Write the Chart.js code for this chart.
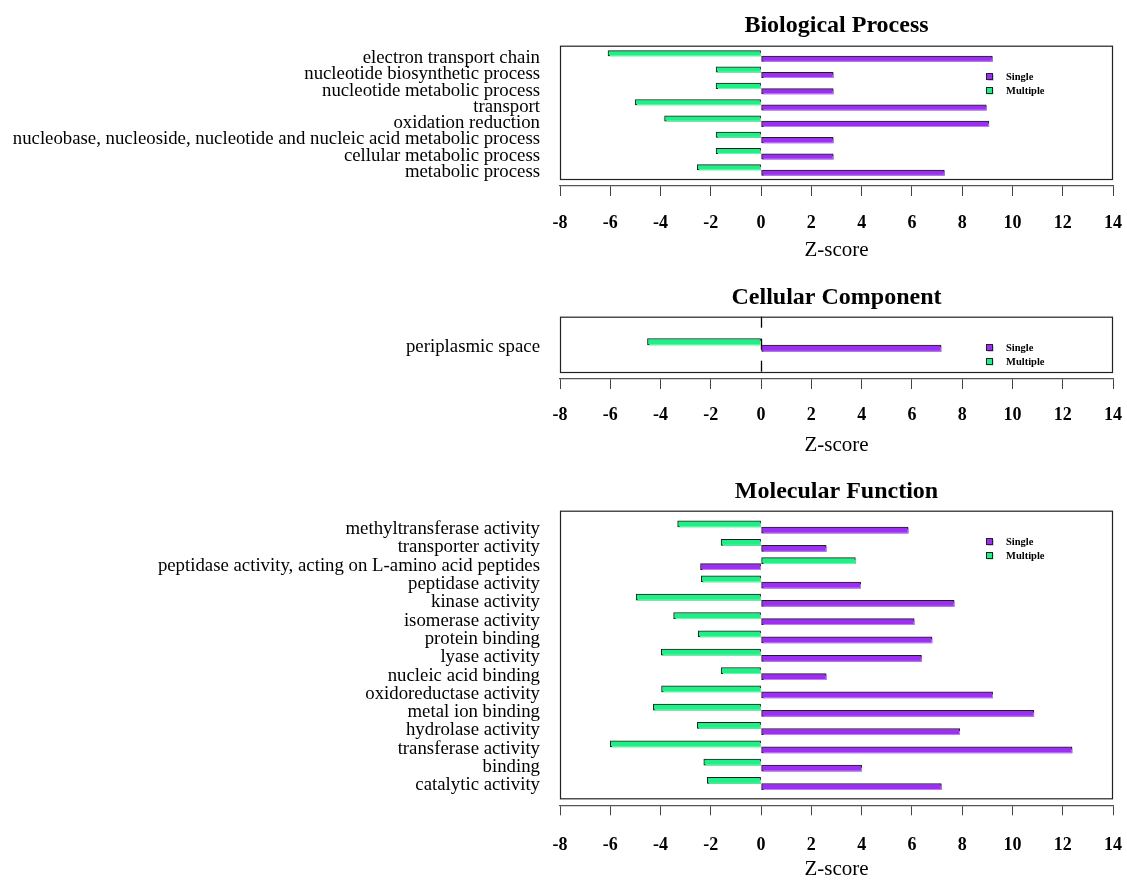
<!DOCTYPE html>
<html><head><meta charset="utf-8">
<script src="https://cdn.jsdelivr.net/npm/chart.js@4.4.0/dist/chart.umd.min.js"></script>
<style>
html,body{margin:0;padding:0;background:#fff;}
body{width:1127px;height:880px;position:relative;overflow:hidden;}
canvas{position:absolute;left:0;display:block;}
</style></head><body>
<canvas id="c1" width="1127" height="265" style="top:0px"></canvas>
<canvas id="c2" width="1127" height="193" style="top:265px"></canvas>
<canvas id="c3" width="1127" height="426" style="top:458px"></canvas>
<script>
// ---------- data ----------
const bpLabels = ["electron transport chain","nucleotide biosynthetic process","nucleotide metabolic process","transport","oxidation reduction","nucleobase, nucleoside, nucleotide and nucleic acid metabolic process","cellular metabolic process","metabolic process"];
const bpSingle   = [9.2, 2.87, 2.87, 8.96, 9.06, 2.87, 2.87, 7.29];
const bpMultiple = [-6.09, -1.79, -1.79, -5.01, -3.84, -1.79, -1.79, -2.54];

const ccLabels = ["periplasmic space"];
const ccSingle   = [7.16];
const ccMultiple = [-4.52];

const mfLabels = ["methyltransferase activity","transporter activity","peptidase activity, acting on L-amino acid peptides","peptidase activity","kinase activity","isomerase activity","protein binding","lyase activity","nucleic acid binding","oxidoreductase activity","metal ion binding","hydrolase activity","transferase activity","binding","catalytic activity"];
const mfSingle   = [5.85, 2.59, -2.41, 3.96, 7.68, 6.09, 6.8, 6.38, 2.59, 9.21, 10.85, 7.9, 12.37, 4.0, 7.17];
const mfMultiple = [-3.32, -1.59, 3.75, -2.38, -4.97, -3.48, -2.5, -3.97, -1.59, -3.96, -4.29, -2.54, -6.0, -2.28, -2.14];

const seriesNames = ["Single", "Multiple"];
const xMin = -8, xMax = 14, xStep = 2;
const axisTitle = "Z-score";

// ---------- style ----------
const FONT = "'Liberation Serif', 'Times New Roman', serif";
const PURPLE = "#9b30f0", PURPLE_SH = "#c07cff";
const GREEN = "#22ee88", GREEN_SH = "#5dffaa";
const FRAME_GAP = 7;

const framePlugin = {
  id: 'frame',
  beforeDatasetsDraw(chart, args, opts) {
    const {ctx, chartArea: a, scales} = chart;
    ctx.save();
    if (opts.zeroLine) {
      const x0 = Math.round(scales.x.getPixelForValue(0)) + 0.5;
      ctx.strokeStyle = '#000'; ctx.lineWidth = 1.3; ctx.setLineDash([11, 11]);
      ctx.beginPath(); ctx.moveTo(x0, a.top); ctx.lineTo(x0, a.bottom - FRAME_GAP); ctx.stroke();
      ctx.setLineDash([]);
    }
    ctx.restore();
  },
  afterDraw(chart) {
    const {ctx, chartArea: a} = chart;
    ctx.save();
    ctx.strokeStyle = '#222'; ctx.lineWidth = 1.2;
    ctx.strokeRect(a.left + 0.5, a.top + 0.5, a.right - a.left - 1, a.bottom - FRAME_GAP - a.top);
    ctx.restore();
  }
};

const shadowPlugin = {
  id: 'barshadow',
  beforeDatasetDraw(chart, args) {
    const ds = chart.data.datasets[args.index];
    const ctx = chart.ctx;
    ctx.save();
    ctx.shadowColor = ds.shadowCol;
    ctx.shadowOffsetX = 1.2; ctx.shadowOffsetY = 1.6; ctx.shadowBlur = 0;
  },
  afterDatasetDraw(chart) { chart.ctx.restore(); }
};

const legendPlugin = {
  id: 'insideLegend',
  afterDraw(chart, args, opts) {
    const {ctx, chartArea: a} = chart;
    const items = [[seriesNames[0], PURPLE, PURPLE_SH], [seriesNames[1], GREEN, GREEN_SH]];
    ctx.save();
    items.forEach((it, i) => {
      const cy = a.top + opts.dy + i * 14;
      const bx = 986.5, s = 6;
      ctx.fillStyle = it[2]; ctx.fillRect(bx + 1, cy - s/2 + 1, s, s);
      ctx.fillStyle = it[1]; ctx.fillRect(bx, cy - s/2, s, s);
      ctx.strokeStyle = '#222'; ctx.lineWidth = 1; ctx.strokeRect(bx, cy - s/2, s, s);
      ctx.fillStyle = '#000'; ctx.font = 'bold 10.5px ' + FONT;
      ctx.textBaseline = 'middle'; ctx.textAlign = 'left';
      ctx.fillText(it[0], 1006, cy + 0.5);
    });
    ctx.restore();
  }
};

function makePanel(id, title, labels, single, multiple, p) {
  new Chart(document.getElementById(id), {
    type: 'bar',
    data: {
      datasets: [
        { label: seriesNames[1], data: multiple.map((v, i) => ({x: v, y: i})), backgroundColor: GREEN,
          borderColor: '#1e1e1e', borderWidth: 1, borderSkipped: false, barThickness: p.bt, shadowCol: GREEN_SH },
        { label: seriesNames[0], data: single.map((v, i) => ({x: v, y: i})), backgroundColor: PURPLE,
          borderColor: '#1e1e1e', borderWidth: 1, borderSkipped: false, barThickness: p.bt, shadowCol: PURPLE_SH }
      ]
    },
    options: {
      indexAxis: 'y', responsive: false, animation: false, devicePixelRatio: 1,
      layout: { padding: { left: 0, right: 14, top: 0, bottom: 0 } },
      scales: {
        x: {
          type: 'linear', position: 'bottom', min: xMin, max: xMax,
          ticks: { stepSize: xStep, color: '#000', padding: p.tickPad, maxRotation: 0, autoSkip: false,
                   font: { family: FONT, size: 18, weight: 'bold' } },
          grid: { drawOnChartArea: false, drawTicks: true, tickLength: 10, color: '#444', lineWidth: 1 },
          border: { display: true, color: '#555', width: 1.2 },
          title: { display: true, text: axisTitle, color: '#000', font: { family: FONT, size: 21 },
                   padding: { top: 0, bottom: p.titlePb } },
          afterFit: s => { s.height = p.xH; s.paddingLeft = 0; s.paddingRight = 0; }
        },
        y: {
          type: 'linear', reverse: true, offset: false, min: p.ymin, max: p.ymax,
          afterBuildTicks: s => { s.ticks = labels.map((_, i) => ({ value: i })); },
          ticks: { callback: v => labels[v], color: '#000', padding: 20, autoSkip: false, labelOffset: 2,
                   font: { family: FONT, size: 18.8 } },
          grid: { display: false, drawTicks: false, tickLength: 0 },
          border: { display: false },
          afterFit: s => { s.width = 560; s.paddingTop = 0; s.paddingBottom = 0; }
        }
      },
      plugins: {
        legend: { display: false }, tooltip: { enabled: false },
        title: { display: true, text: title, fullSize: false, color: '#000',
                 font: { family: FONT, size: 24, weight: 'bold' },
                 padding: { top: p.tPt, bottom: p.tPb } },
        frame: { zeroLine: !!p.zeroLine },
        insideLegend: { dy: p.legDy }
      }
    },
    plugins: [framePlugin, shadowPlugin, legendPlugin]
  });
}

makePanel('c1', 'Biological Process', bpLabels, bpSingle, bpMultiple,
  { tPt: 11.1, tPb: 5.8, xH: 79, tickPad: 16.2, titlePb: 2.4, ymin: -0.632, ymax: 7.98, bt: 5.4, legDy: 30.8 });
makePanel('c2', 'Cellular Component', ccLabels, ccSingle, ccMultiple,
  { tPt: 18.6, tPb: 4.3, xH: 79, tickPad: 15.2, titlePb: 0.4, ymin: -1.415, ymax: 1.70, bt: 6.5, legDy: 30.8, zeroLine: true });
makePanel('c3', 'Molecular Function', mfLabels, mfSingle, mfMultiple,
  { tPt: 19.6, tPb: 4.3, xH: 78.7, tickPad: 18.9, titlePb: 2.4, ymin: -0.89, ymax: 15.19, bt: 6.1, legDy: 30.8 });
</script>
</body></html>
